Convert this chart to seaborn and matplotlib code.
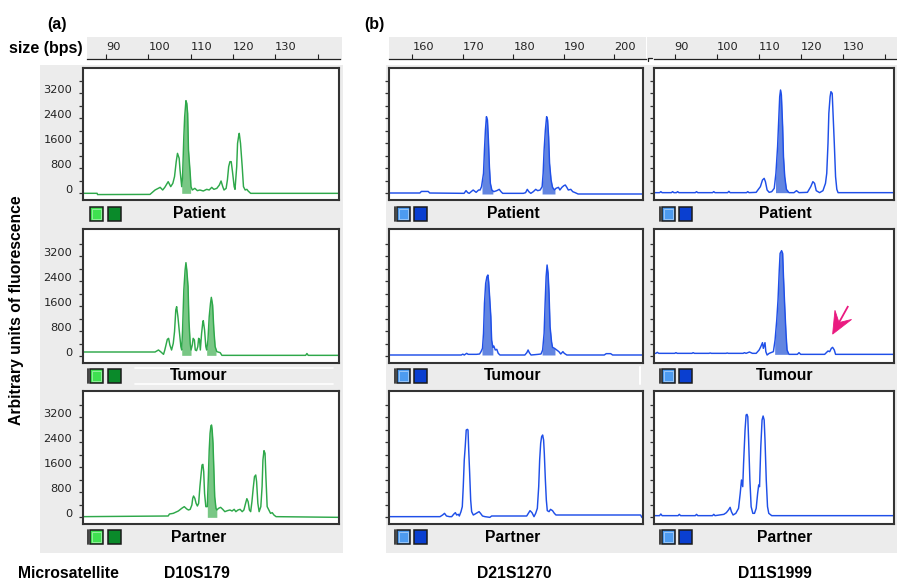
import numpy as np
import matplotlib
matplotlib.use("Agg")
import matplotlib.pyplot as plt
from matplotlib.patches import Rectangle, Polygon
import seaborn as sns

# ---------------- data ----------------
microsatellites = ["D10S179", "D21S1270", "D11S1999"]
samples = ["Patient", "Tumour", "Partner"]

size_ticks_a = [90, 100, 110, 120, 130, 140]
size_labels_a = ["90", "100", "110", "120", "130", ""]
size_ticks_b = [160, 170, 180, 190, 200]
size_labels_b = ["160", "170", "180", "190", "200"]
size_ticks_c = [90, 100, 110, 120, 130, 140]
size_labels_c = ["90", "100", "110", "120", "130", ""]

rfu_labelled = [0, 800, 1600, 2400, 3200]
rfu_unlabelled = [400, 1200, 2000, 2800, 3600]

# D10S179 traces (size in bp, fluorescence units)
a_patient_bp = [84.6, 87.9, 88.0, 100.4, 101.6, 102.8, 103.4, 103.9, 104.7, 105.3, 105.8, 106.2, 106.6, 106.9,
                107.3, 107.5, 107.9, 108.1, 108.4, 108.6, 108.9, 109.1, 109.3, 109.5, 109.9, 110.1, 110.4, 111.0,
                111.6, 112.2, 113.0, 113.8, 114.4, 115.0, 115.5, 116.2, 116.8, 117.2, 117.6, 117.9, 118.4, 118.7,
                119.0, 119.3, 119.6, 119.9, 120.3, 120.5, 120.9, 121.1, 121.4, 121.5, 121.8, 122.2, 122.5, 122.9,
                123.3, 123.6, 124.2, 145.1]
a_patient_rfu = [-10, -10, -50, -45, 96, 181, 96, 181, 363, 203, 309, 523, 1003, 1269,
                 1109, 736, 203, 523, 1803, 2443, 2955, 2869, 2549, 1376, 629, 203, 96, 149,
                 75, 96, 64, 117, 96, 181, 117, 149, 256, 384, 203, 96, 149, 416,
                 843, 1003, 1003, 683, 203, 117, 843, 1589, 1856, 1909, 1589, 843, 203, 96,
                 117, 64, -11, -11]
a_patient_fill = [(107.9, 110.0)]

a_tumour_bp = [84.6, 101.6, 102.4, 102.9, 103.6, 103.9, 104.5, 104.8, 105.1, 105.5, 105.9, 106.2, 106.5, 106.7,
               107.0, 107.3, 107.7, 107.9, 108.1, 108.4, 108.7, 108.9, 109.1, 109.4, 109.6, 109.9, 110.1, 110.4,
               110.6, 110.9, 111.1, 111.4, 111.7, 111.9, 112.1, 112.3, 112.6, 112.9, 113.0, 113.3, 113.6, 113.8,
               114.1, 114.4, 114.7, 114.9, 115.2, 115.5, 115.8, 116.2, 117.0, 117.4, 137.2, 137.5, 137.8, 145.1]
a_tumour_rfu = [128, 128, 192, 139, 53, 192, 533, 565, 352, 192, 405, 779, 1472, 1579,
                1259, 832, 299, 192, 832, 2112, 2752, 2987, 2752, 2219, 1152, 405, 192, 352,
                565, 512, 192, 171, 299, 565, 533, 192, 725, 1099, 1131, 832, 299, 192,
                512, 1259, 1685, 1877, 1632, 832, 299, 139, 107, 21, 21, 80, 21, 21]
a_tumour_fill = [(107.9, 110.1), (113.8, 116.0)]

a_partner_bp = [84.6, 104.7, 105.0, 105.9, 107.1, 107.9, 108.5, 109.1, 109.5, 109.9, 110.3, 110.5, 110.7, 111.0,
                111.3, 111.6, 111.9, 112.2, 112.5, 112.7, 112.9, 113.1, 113.3, 113.6, 113.95, 114.2, 114.4, 114.6,
                114.8, 114.95, 115.1, 115.3, 115.5, 115.7, 116.0, 116.2, 116.6, 117.1, 117.6, 118.1, 118.7, 119.3,
                119.8, 120.3, 120.7, 121.2, 121.7, 122.2, 122.6, 123.0, 123.3, 123.6, 123.9, 124.2, 124.5, 124.8,
                125.1, 125.4, 125.6, 125.9, 126.2, 126.6, 126.9, 127.1, 127.35, 127.6, 127.8, 128.1, 128.5, 128.9,
                129.3, 129.7, 130.2, 145.1]
a_partner_rfu = [11, 32, 96, 117, 192, 277, 331, 256, 224, 245, 384, 597, 672, 597,
                 437, 352, 437, 971, 1397, 1664, 1685, 1451, 757, 331, 331, 1291, 2144, 2677,
                 2912, 2944, 2784, 2357, 1504, 651, 277, 224, 277, 309, 245, 171, 203, 224,
                 192, 245, 171, 224, 245, 171, 224, 437, 587, 491, 224, 171, 491, 917,
                 1291, 1344, 1131, 437, 171, 331, 971, 1824, 2123, 2037, 1291, 331, 224, 117,
                 139, 64, 11, -11]
a_partner_fill = [(113.95, 116.2)]

# D21S1270 traces
b_patient_bp = [150.0, 161.5, 161.8, 163.15, 163.45, 170.25, 170.64, 170.98, 171.27, 171.66, 172.05, 172.64,
                173.13, 173.42, 173.71, 174.1, 174.29, 174.48, 174.68, 174.88, 175.07, 175.27, 175.46, 175.75,
                176.14, 176.73, 177.21, 177.56, 177.9, 181.99, 182.43, 182.77, 183.07, 183.47, 183.96, 184.44,
                184.83, 185.32, 185.71, 185.91, 186.1, 186.35, 186.6, 186.79, 186.99, 187.18, 187.48, 187.77,
                188.16, 188.45, 188.94, 189.23, 189.62, 190.01, 190.3, 190.6, 190.89, 191.38, 191.77, 192.25,
                192.83, 210.0]
b_patient_rfu = [0, 0, 50, 50, 0, -11, 75, 11, -11, 43, 96, 21,
                 96, 96, 203, 629, 1376, 2016, 2443, 2336, 1696, 843, 309, 96,
                 43, 75, 117, 43, -11, -11, 11, 117, 43, -11, 43, 117,
                 75, 96, 203, 629, 1376, 2016, 2443, 2336, 1803, 949, 416, 181,
                 96, 149, 181, 96, 181, 235, 256, 181, 96, 117, 43, 11,
                 -32, -32]
b_patient_fill = [(173.8, 175.95), (185.7, 188.25)]

b_tumour_bp = [150.0, 169.7, 170.0, 170.29, 170.77, 171.07, 172.73, 173.32, 173.61, 173.9, 174.1, 174.29,
               174.53, 174.78, 174.97, 175.12, 175.31, 175.55, 175.71, 175.95, 176.14, 176.43, 176.73, 177.02,
               177.36, 182.29, 182.68, 182.93, 183.17, 183.51, 184.29, 184.93, 185.49, 185.81, 186.1, 186.3,
               186.5, 186.69, 186.89, 187.08, 187.28, 187.57, 187.77, 188.16, 188.6, 189.03, 189.39, 189.82,
               190.1, 190.6, 198.01, 198.4, 199.28, 199.67, 210.0]
b_tumour_rfu = [32, 32, 60, 32, 85, 53, 53, 64, 139, 245, 725, 1685,
                2325, 2539, 2592, 2379, 1899, 1259, 512, 277, 320, 192, 213, 85,
                32, 32, 107, 192, 107, 32, 43, 53, 64, 192, 725, 1685,
                2539, 2912, 2645, 2005, 939, 459, 277, 245, 192, 139, 64, 139,
                85, 32, 32, 75, 75, 32, 32]
b_tumour_fill = [(173.8, 175.95), (185.7, 188.25)]

b_partner_bp = [150.0, 165.49, 166.0, 166.38, 166.77, 167.36, 167.8, 168.24, 168.53, 168.78, 169.12, 169.31,
                169.64, 169.9, 170.09, 170.29, 170.48, 170.68, 170.9, 171.03, 171.17, 171.36, 171.56, 171.75,
                172.08, 172.44, 172.88, 173.22, 173.51, 173.9, 174.39, 175.36, 175.71, 182.65, 182.98, 183.31,
                183.7, 184.1, 184.43, 184.76, 185.03, 185.22, 185.42, 185.61, 185.81, 186.0, 186.14, 186.35,
                186.54, 186.73, 187.08, 187.37, 187.77, 188.13, 188.45, 205.2, 205.5, 210.0]
b_partner_rfu = [11, 11, 64, 117, 32, 11, 11, 96, 139, 64, 85, 32,
                 171, 331, 971, 1824, 2251, 2784, 2805, 2784, 2144, 1397, 544, 171,
                 64, 96, 139, 171, 117, 32, 11, -11, 32, 32, 117, 203,
                 139, 11, 117, 277, 971, 1824, 2357, 2571, 2624, 2464, 2037, 1184,
                 544, 203, 171, 245, 203, 117, 64, 64, -20, -20]
b_partner_fill = []

# D11S1999 traces
c_patient_bp = [85.1, 86.4, 86.7, 87.0, 89.2, 89.5, 89.8, 90.4, 90.7, 91.0, 94.9, 95.2, 95.5, 99.0, 99.3, 99.6,
                102.6, 102.9, 103.2, 107.1, 107.4, 107.7, 109.4, 109.8, 110.4, 110.9, 111.3, 111.6, 112.0, 112.5,
                113.1, 113.7, 114.1, 114.5, 114.7, 115.0, 115.2, 115.4, 115.7, 115.9, 116.2, 116.6, 117.2, 118.4,
                119.0, 119.6, 121.6, 122.4, 122.9, 123.3, 123.7, 124.5, 125.3, 125.9, 126.2, 126.5, 126.7, 127.0,
                127.2, 127.5, 127.7, 128.0, 128.3, 128.6, 128.9, 145.1]
c_patient_rfu = [11, 11, 43, 11, 11, 43, 11, 11, 43, 11, 11, 43, 11, 11, 43, 11,
                 11, 53, 11, 11, 43, 11, 21, 96, 203, 416, 469, 363, 96, 21,
                 43, 149, 629, 1483, 2123, 3083, 3296, 3136, 2123, 1163, 523, 117, 11, 11,
                 75, 11, 21, 203, 363, 309, 75, 11, 75, 309, 629, 1589, 2549, 3083,
                 3243, 3189, 2549, 1589, 523, 117, 11, 11]
c_patient_fill = [(114.0, 116.9)]

c_tumour_bp = [85.1, 85.5, 85.85, 86.2, 90.0, 90.3, 90.6, 94.1, 94.4, 94.7, 98.15, 98.45, 98.75, 102.2, 102.5,
               102.8, 106.3, 106.6, 107.0, 107.8, 108.5, 109.4, 110.1, 110.5, 110.9, 111.1, 111.5, 111.7, 112.0,
               112.5, 113.5, 113.9, 114.3, 114.6, 114.9, 115.1, 115.45, 115.7, 115.9, 116.2, 116.5, 116.75, 117.2,
               119.2, 119.6, 120.0, 125.7, 126.5, 126.9, 127.3, 127.6, 128.0, 128.3, 145.1]
c_tumour_rfu = [85, 85, 117, 85, 85, 107, 85, 85, 107, 85, 85, 96, 85, 85, 96,
                85, 85, 107, 85, 128, 85, 85, 192, 299, 427, 245, 427, 139, 32,
                85, 139, 512, 1152, 1792, 2752, 3285, 3371, 3285, 2539, 1579, 725, 192, 53,
                53, 107, 53, 53, 160, 139, 245, 277, 192, 53, 53]
c_tumour_fill = [(113.8, 116.9)]

c_partner_bp = [85.1, 86.4, 86.7, 87.0, 90.8, 91.1, 91.4, 94.9, 95.2, 95.5, 99.0, 99.3, 99.6, 101.7, 102.3,
                102.8, 103.2, 103.5, 103.9, 104.55, 105.2, 105.6, 105.9, 106.2, 106.4, 106.75, 107.0, 107.2,
                107.4, 107.6, 107.9, 108.2, 108.6, 109.0, 109.4, 109.75, 110.0, 110.2, 110.5, 110.8, 111.05,
                111.3, 111.5, 111.8, 112.1, 112.4, 113.1, 145.1]
c_partner_rfu = [43, 43, 96, 43, 43, 85, 43, 43, 85, 43, 43, 85, 43, 85, 139,
                 224, 309, 171, 64, 117, 277, 757, 1184, 971, 1717, 2784, 3264, 3285,
                 3211, 2464, 1184, 331, 117, 117, 277, 757, 1024, 971, 2251, 3104, 3232,
                 3104, 2464, 1184, 331, 117, 43, 43]
c_partner_fill = []

# allele lost in tumour (arrow)
arrow_bp, arrow_rfu = 127.6, 700
arrow_tail_bp, arrow_tail_rfu = 131.3, 1600

traces = [
    [(a_patient_bp, a_patient_rfu, a_patient_fill), (a_tumour_bp, a_tumour_rfu, a_tumour_fill),
     (a_partner_bp, a_partner_rfu, a_partner_fill)],
    [(b_patient_bp, b_patient_rfu, b_patient_fill), (b_tumour_bp, b_tumour_rfu, b_tumour_fill),
     (b_partner_bp, b_partner_rfu, b_partner_fill)],
    [(c_patient_bp, c_patient_rfu, c_patient_fill), (c_tumour_bp, c_tumour_rfu, c_tumour_fill),
     (c_partner_bp, c_partner_rfu, c_partner_fill)],
]
size_ticks = [size_ticks_a, size_ticks_b, size_ticks_c]
size_labels = [size_labels_a, size_labels_b, size_labels_c]

# ---------------- style / layout ----------------
sns.set_theme(style="white")
plt.rcParams["font.family"] = ["Liberation Sans", "DejaVu Sans"]

W, H = 897, 579
fig = plt.figure(figsize=(W / 100, H / 100), dpi=100)
fig.patch.set_facecolor("white")

GRAY = "#ececec"
line_colors = ["#2ea84a", "#1f4fe8", "#1f4fe8"]
fill_colors = ["#72c47f", "#5a7fe0", "#5a7fe0"]
sq_colors = [("#3fe050", "#0a8a2a"), ("#4d9bf0", "#0a3fd0"), ("#4d9bf0", "#0a3fd0")]

cols_px = [(83, 339), (389, 643), (654, 894)]
col_scale = [(106, 90, 4.23), (412.3, 160, 5.05), (674.7, 90, 4.20)]  # (anchor tick px, bp, px per bp)
strip_px = [(87, 340), (389, 646), (654, 897)]
rows_px = [(68, 200), (229, 363), (391, 524)]
zero_px = [193, 356, 517]
UNITS_PER_PX = 32.0
label_cx = [199, 513, 785]
label_cy = [214, 376, 537]
sq_x = [(87, 90, 108), (394, 397, 414), (659, 661.5, 678.5)]
sq_y = [207, 369, 530]
name_cx = [197, 514, 775]


def px_axes(x0, y0, x1, y1):
    return fig.add_axes([x0 / W, 1 - y1 / H, (x1 - x0) / W, (y1 - y0) / H])


def bp_at(col, x):
    p, b, s = col_scale[col]
    return b + (x - p) / s


# background layer in pixel coordinates
bg = px_axes(0, 0, W, H)
bg.set_xlim(0, W)
bg.set_ylim(H, 0)
bg.axis("off")
bg.add_patch(Rectangle((40, 65), 303, 488, color=GRAY, lw=0))
bg.add_patch(Rectangle((385.6, 65), 512, 488, color=GRAY, lw=0))
bg.add_patch(Rectangle((87, 37), 255, 23, color=GRAY, lw=0))
bg.add_patch(Rectangle((389, 37), 257, 23, color=GRAY, lw=0))
bg.add_patch(Rectangle((647, 37), 250, 23, color=GRAY, lw=0))
# small bracket mark at the start of the right-hand size strip
bg.plot([648, 648, 652], [61, 57.5, 57.5], color="#222222", lw=0.9)
# white separator lines around the tumour label strip of (a)
bg.plot([135, 333], [368.3, 368.3], color="white", lw=1.2)
bg.plot([135, 333], [384, 384], color="white", lw=1.2)
bg.plot([640, 640], [367, 384], color="white", lw=1.5)

bold = dict(fontweight="bold", color="black")
bg.text(57, 24, "(a)", ha="center", va="center", fontsize=11.5, **bold)
bg.text(374, 24, "(b)", ha="center", va="center", fontsize=11.5, **bold)
bg.text(9, 49, "size (bps)", ha="left", va="center", fontsize=11.5, **bold)
bg.text(17, 310, "Arbitrary units of fluorescence", ha="center", va="center", rotation=90,
        fontsize=11.3, **bold)
bg.text(18, 573, "Microsatellite", ha="left", va="center", fontsize=11.3, **bold)
for c, name in enumerate(microsatellites):
    bg.text(name_cx[c], 573, name, ha="center", va="center", fontsize=11.3, **bold)

for c in range(3):
    for r in range(3):
        bg.text(label_cx[c], label_cy[r], samples[r], ha="center", va="center", fontsize=11.3, **bold)
        bx, s1, s2 = sq_x[c]
        y0 = sq_y[r]
        if not (c == 0 and r == 0):
            bg.plot([bx + 0.5, bx + 0.5], [y0, y0 + 13.5], color="#333333", lw=1.3)
        light, dark = sq_colors[c]
        bg.add_patch(Rectangle((s1, y0), 13, 13.5, facecolor=light, edgecolor="#1a1a1a", lw=1.1))
        bg.add_patch(Rectangle((s1 + 2, y0 + 2), 9, 9.5, facecolor="none", edgecolor="white", lw=0.5,
                               alpha=0.6))
        bg.add_patch(Rectangle((s2, y0), 13, 13.5, facecolor=dark, edgecolor="#1a1a1a", lw=1.1))

# size strips
for c in range(3):
    x0, x1 = strip_px[c]
    sa = px_axes(x0, 40, x1, 59.3)
    sa.set_facecolor("none")
    sa.set_xlim(bp_at(c, x0), bp_at(c, x1))
    sa.set_ylim(0, 1)
    for side in ["top", "left", "right"]:
        sa.spines[side].set_visible(False)
    sa.spines["bottom"].set_color("#222222")
    sa.spines["bottom"].set_linewidth(0.9)
    sa.set_xticks(size_ticks[c])
    sa.set_yticks([])
    sa.tick_params(axis="x", direction="in", length=3.5, width=0.8, color="#222222",
                   bottom=True, labelbottom=False)
    for t, lab in zip(size_ticks[c], size_labels[c]):
        sa.text(t, 0.64, lab, transform=sa.get_xaxis_transform(), ha="left", va="center",
                fontsize=8.2, family="DejaVu Sans", color="#222222")

# electropherogram panels
panel_axes = {}
for c in range(3):
    for r in range(3):
        x0, x1 = cols_px[c]
        y0, y1 = rows_px[r]
        ax = px_axes(x0, y0, x1, y1)
        ax.set_facecolor("white")
        ax.set_xlim(bp_at(c, x0), bp_at(c, x1))
        ax.set_ylim(-(y1 - zero_px[r]) * UNITS_PER_PX, (zero_px[r] - y0) * UNITS_PER_PX)
        bp, rfu, fills = traces[c][r]
        bpa = np.asarray(bp, float)
        rfa = np.asarray(rfu, float)
        for lo, hi in fills:
            m = (bpa > lo) & (bpa < hi)
            xs = np.concatenate([[lo], bpa[m], [hi]])
            ys = np.concatenate([[np.interp(lo, bpa, rfa)], rfa[m], [np.interp(hi, bpa, rfa)]])
            ax.fill_between(xs, rfa[-1], ys, color=fill_colors[c], lw=0, alpha=0.95)
        sns.lineplot(x=bp, y=rfu, ax=ax, color=line_colors[c], linewidth=1.05,
                     estimator=None, sort=False, legend=False)
        ax.set_xlabel("")
        ax.set_ylabel("")
        ax.set_xticks([])
        ax.set_yticks(rfu_labelled)
        ax.set_yticks(rfu_unlabelled, minor=True)
        if c == 0:
            ax.set_yticklabels([str(v) for v in rfu_labelled])
        else:
            ax.set_yticklabels([])
        ax.tick_params(axis="y", which="both", direction="out", length=3.2, width=0.9,
                       color="#333333", pad=4.5, labelsize=8.2, left=True, labelcolor="#222222")
        for lbl in ax.get_yticklabels():
            lbl.set_fontfamily("DejaVu Sans")
            lbl.set_verticalalignment("baseline")
        for sp in ax.spines.values():
            sp.set_visible(True)
            sp.set_color("#333333")
            sp.set_linewidth(1.5)
        panel_axes[(c, r)] = ax

# arrow marking the lost allele: dart-shaped head drawn in an overlay (pixel units)
ov = px_axes(0, 0, W, H)
ov.set_xlim(0, W)
ov.set_ylim(H, 0)
ov.axis("off")
ov.patch.set_alpha(0)
axc = panel_axes[(2, 1)]
tx, ty = axc.transData.transform((arrow_bp, arrow_rfu))
ex, ey = axc.transData.transform((arrow_tail_bp, arrow_tail_rfu))
tip = np.array([tx, H - ty])
tail = np.array([ex, H - ey])
u = (tail - tip) / np.linalg.norm(tail - tip)
v = np.array([-u[1], u[0]])
L, hw = 22.0, 9.5
head = [tip, tip + u * L + v * hw, tip + u * L * 0.6, tip + u * L - v * hw]
ov.add_patch(Polygon(head, closed=True, facecolor="#ea1a80", edgecolor="#ea1a80", lw=0.6))
ov.plot([tip[0] + u[0] * L * 0.6, tail[0]], [tip[1] + u[1] * L * 0.6, tail[1]],
        color="#ea1a80", lw=1.3, solid_capstyle="butt")

fig.savefig("out.png", dpi=100)
